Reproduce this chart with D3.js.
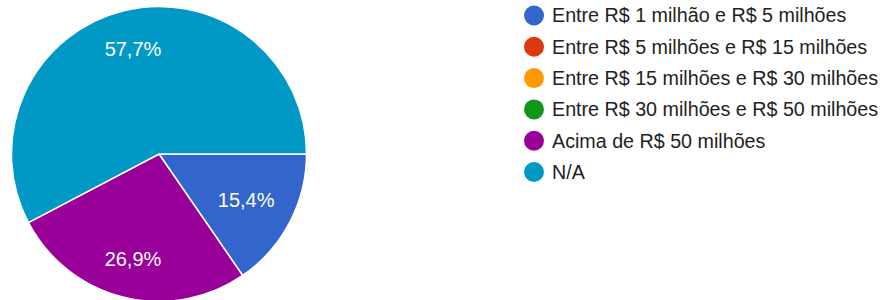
<!DOCTYPE html>
<html><head><meta charset="utf-8">
<script src="https://cdn.jsdelivr.net/npm/d3@7"></script>
<style>html,body{margin:0;padding:0;background:#fff;}</style>
</head><body>
<svg id="chart" width="890" height="300"></svg>
<script>
const categories = ["Entre R$ 1 milhão e R$ 5 milhões","Entre R$ 5 milhões e R$ 15 milhões","Entre R$ 15 milhões e R$ 30 milhões","Entre R$ 30 milhões e R$ 50 milhões","Acima de R$ 50 milhões","N/A"];
const values = [15.4, 0, 0, 0, 26.9, 57.7];
const colors = ["#3366cc","#dc3912","#ff9900","#109618","#990099","#0099c6"];
const labels = ["15,4%","","","","26,9%","57,7%"];

const svg = d3.select("#chart");
const cx = 159, cy = 154, r = 147.5;
const data = categories.map((c,i)=>({c, v:values[i], col:colors[i], lab:labels[i]}));
const pie = d3.pie().value(d=>d.v).sort(null).startAngle(Math.PI/2).endAngle(Math.PI/2 + 2*Math.PI);
const arcs = pie(data);
const arc = d3.arc().innerRadius(0).outerRadius(r);
const g = svg.append("g").attr("transform",`translate(${cx},${cy})`);
g.selectAll("path").data(arcs.filter(a=>a.data.v>0)).join("path")
  .attr("d",arc).attr("fill",d=>d.data.col).attr("stroke","#fff").attr("stroke-width",1.5);
const font = "'Liberation Sans', Arial, sans-serif";
g.selectAll("text").data(arcs.filter(a=>a.data.v>0)).join("text")
  .attr("text-anchor","middle")
  .attr("fill","#fff").attr("font-family",font).attr("font-size",20)
  .text(d=>d.data.lab)
  .each(function(d){
    // push label outward along the bisector until its box corner touches limit
    const bb = this.getBBox();
    const hw = bb.width/2, hh = 11.5;
    const a = (d.startAngle + d.endAngle)/2;
    const ux = Math.sin(a), uy = -Math.cos(a);
    const limit = r*0.875;
    let lo = 0, hi = r;
    for (let k=0;k<40;k++){
      const m = (lo+hi)/2;
      const px = ux*m, py = uy*m;
      let maxd = 0;
      for (const sx of [-1,1]) for (const sy of [-1,1]) {
        maxd = Math.max(maxd, Math.hypot(px+sx*hw, py+sy*hh));
      }
      if (maxd > limit) hi = m; else lo = m;
    }
    d3.select(this).attr("x", ux*lo).attr("y", uy*lo).attr("dy","0.35em");
  });

const y = d3.scalePoint().domain(categories).range([15.5, 172]);
const lg = svg.append("g");
lg.selectAll("circle").data(data).join("circle")
  .attr("cx",534).attr("cy",d=>y(d.c)).attr("r",10).attr("fill",d=>d.col);
lg.selectAll("text").data(data).join("text")
  .attr("x",552).attr("y",d=>y(d.c)).attr("dy","0.35em")
  .attr("fill","#222").attr("font-family",font).attr("font-size",19.7)
  .text(d=>d.c);
</script>
</body></html>
